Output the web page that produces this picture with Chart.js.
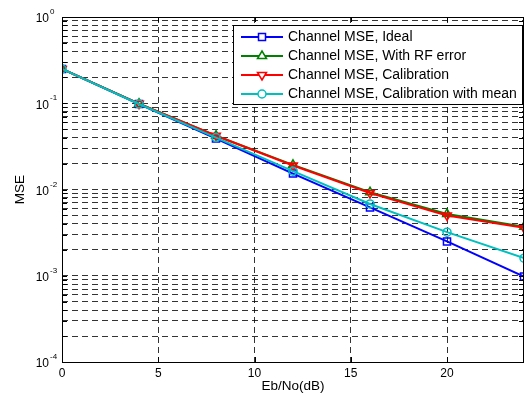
<!DOCTYPE html>
<html>
<head>
<meta charset="utf-8">
<script src="https://cdn.jsdelivr.net/npm/chart.js@4.4.1/dist/chart.umd.min.js"></script>
<style>
  html, body { margin: 0; padding: 0; background: #fff; }
</style>
</head>
<body>
<canvas id="mseChart" width="532" height="395"></canvas>
<script>
// Eb/No (dB) sample points
const ebNo = [0, 4, 8, 12, 16, 20, 24];

// MSE values
const mseIdeal       = [0.25, 0.098, 0.039, 0.0153, 0.0062, 0.0025, 0.00098];
const mseRfError     = [0.25, 0.099, 0.042, 0.0193, 0.0093, 0.0052, 0.0037];
const mseCalibration = [0.25, 0.099, 0.042, 0.0190, 0.0091, 0.0050, 0.0036];
const mseCalibMean   = [0.25, 0.098, 0.040, 0.0163, 0.0068, 0.0032, 0.0016];

// axis ticks
const xTicks = [0, 5, 10, 15, 20];
const yDecades = [-4, -3, -2, -1, 0];
const yMinor = [1, 2, 3, 4, 5, 6, 7, 8, 9];

const FONT = 'Liberation Sans, Arial, sans-serif';

let yTickValues = [];
yDecades.forEach(d => {
    if (d === 0) { yTickValues.push(1); return; }
    yMinor.forEach(m => yTickValues.push(m * Math.pow(10, d)));
});

const toPoints = ys => ys.map((y, i) => ({ x: ebNo[i], y: y }));

// MATLAB-like frame, inward ticks, superscript labels and boxed legend
const matlabLook = {
    id: 'matlabLook',
    afterDraw(chart) {
        const { ctx, chartArea: a, scales } = chart;
        const xs = scales.x, ys = scales.y;
        ctx.save();
        ctx.setLineDash([]);
        ctx.strokeStyle = '#000';
        ctx.lineWidth = 1;

        // frame
        ctx.strokeRect(a.left + 0.5, a.top + 0.5, a.right - a.left - 1, a.bottom - a.top);

        // inward tick marks
        ctx.beginPath();
        yTickValues.forEach(v => {
            const py = Math.round(ys.getPixelForValue(v)) + 0.5;
            ctx.moveTo(a.left, py); ctx.lineTo(a.left + 5, py);
            ctx.moveTo(a.right, py); ctx.lineTo(a.right - 5, py);
        });
        xTicks.forEach(v => {
            const px = Math.round(xs.getPixelForValue(v)) + 0.5;
            ctx.moveTo(px, a.bottom); ctx.lineTo(px, a.bottom - 5);
            ctx.moveTo(px, a.top); ctx.lineTo(px, a.top + 5);
        });
        ctx.stroke();

        // y tick labels 10^n
        ctx.fillStyle = '#000';
        yDecades.forEach(d => {
            const py = ys.getPixelForValue(Math.pow(10, d));
            ctx.font = '12px ' + FONT;
            ctx.textAlign = 'right';
            ctx.textBaseline = 'middle';
            ctx.fillText('10', a.left - 13, py + 2);
            ctx.font = '8px ' + FONT;
            ctx.textAlign = 'left';
            ctx.fillText(String(d), a.left - 12, py - 5);
        });

        // y axis title
        ctx.font = '13.5px ' + FONT;
        ctx.textAlign = 'center';
        ctx.textBaseline = 'middle';
        ctx.translate(20, (a.top + a.bottom) / 2);
        ctx.rotate(-Math.PI / 2);
        ctx.fillText('MSE', 0, 0);
        ctx.setTransform(1, 0, 0, 1, 0, 0);

        // legend box
        const bx = 233, by = 25, bw = 289, bh = 79;
        ctx.fillStyle = '#fff';
        ctx.fillRect(bx, by, bw, bh);
        ctx.strokeStyle = '#000';
        ctx.strokeRect(bx + 0.5, by + 0.5, bw, bh);
        const rowY = [37, 56, 75, 94];
        chart.data.datasets.forEach((ds, i) => {
            const y = rowY[i];
            ctx.strokeStyle = ds.borderColor;
            ctx.lineWidth = 2;
            ctx.beginPath();
            ctx.moveTo(241, y); ctx.lineTo(283, y);
            ctx.stroke();
            ctx.fillStyle = '#fff';
            ctx.lineWidth = 1.5;
            const mx = 262;
            ctx.beginPath();
            if (ds.pointStyle === 'rect') {
                ctx.rect(mx - 3.5, y - 3.5, 7, 7);
            } else if (ds.pointStyle === 'circle') {
                ctx.arc(mx, y, 4, 0, Math.PI * 2);
            } else if (ds.pointRotation === 180) {
                ctx.moveTo(mx - 4.5, y - 2.5); ctx.lineTo(mx + 4.5, y - 2.5); ctx.lineTo(mx, y + 5); ctx.closePath();
            } else {
                ctx.moveTo(mx - 4.5, y + 2.5); ctx.lineTo(mx + 4.5, y + 2.5); ctx.lineTo(mx, y - 5); ctx.closePath();
            }
            ctx.fill();
            ctx.stroke();
            ctx.fillStyle = '#000';
            ctx.font = '14px ' + FONT;
            ctx.textAlign = 'left';
            ctx.textBaseline = 'middle';
            ctx.fillText(ds.label, 288, y);
        });
        ctx.restore();
    }
};

const gridOpts = { color: 'rgba(0,0,0,0.8)', lineWidth: 1, drawTicks: false };

new Chart(document.getElementById('mseChart'), {
    type: 'line',
    data: {
        datasets: [
            {
                label: 'Channel MSE, Ideal',
                data: toPoints(mseIdeal),
                borderColor: '#0000ff',
                pointStyle: 'rect',
                pointRadius: 5,
                order: 4
            },
            {
                label: 'Channel MSE, With RF error',
                data: toPoints(mseRfError),
                borderColor: '#008000',
                pointStyle: 'triangle',
                pointRadius: 5,
                order: 3
            },
            {
                label: 'Channel MSE, Calibration',
                data: toPoints(mseCalibration),
                borderColor: '#ff0000',
                pointStyle: 'triangle',
                pointRotation: 180,
                pointRadius: 5,
                order: 2
            },
            {
                label: 'Channel MSE, Calibration with mean',
                data: toPoints(mseCalibMean),
                borderColor: '#00bfbf',
                pointStyle: 'circle',
                pointRadius: 4,
                order: 1
            }
        ].map(ds => Object.assign({
            borderWidth: 2,
            pointBorderWidth: 1.5,
            pointBorderColor: ds.borderColor,
            pointBackgroundColor: 'rgba(0,0,0,0)',
            tension: 0,
            fill: false
        }, ds))
    },
    options: {
        responsive: false,
        animation: false,
        devicePixelRatio: 1,
        layout: { padding: { left: 0, right: 8, top: 17, bottom: 0 } },
        plugins: {
            legend: { display: false },
            tooltip: { enabled: false }
        },
        scales: {
            x: {
                type: 'linear',
                min: 0,
                max: 24,
                afterBuildTicks: s => { s.ticks = xTicks.map(v => ({ value: v })); },
                afterFit: s => { s.height = 33; },
                grid: gridOpts,
                border: { display: false, dash: [6, 4] },
                ticks: {
                    color: '#000',
                    font: { family: FONT, size: 12 },
                    padding: 4,
                    maxRotation: 0,
                    autoSkip: false
                },
                title: {
                    display: true,
                    text: 'Eb/No(dB)',
                    color: '#000',
                    font: { family: FONT, size: 13.5 },
                    padding: { top: 1, bottom: 1 }
                }
            },
            y: {
                type: 'logarithmic',
                min: 1e-4,
                max: 1,
                afterBuildTicks: s => { s.ticks = yTickValues.map(v => ({ value: v })); },
                afterFit: s => { s.width = 62; },
                grid: gridOpts,
                border: { display: false, dash: [6, 4] },
                ticks: { display: false }
            }
        }
    },
    plugins: [matlabLook]
});
</script>
</body>
</html>
